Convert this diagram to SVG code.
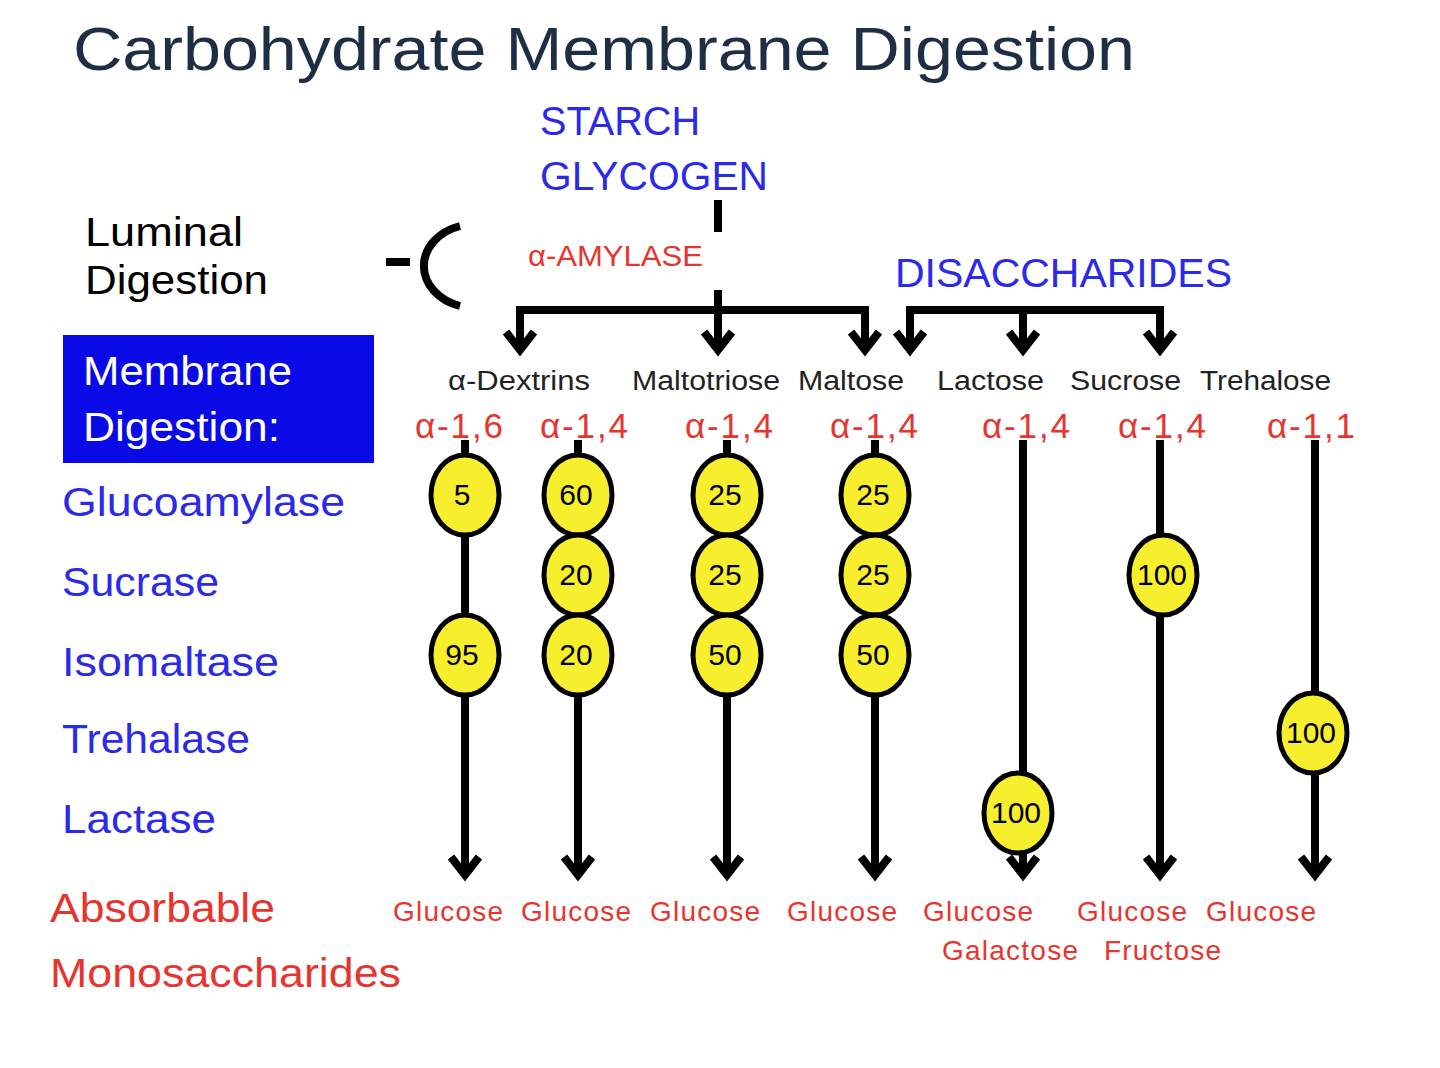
<svg xmlns="http://www.w3.org/2000/svg" width="1440" height="1068" viewBox="0 0 1440 1068">
<style>
text{font-family:"Liberation Sans",Arial,sans-serif}
.blue{fill:#2a2ae8}.red{fill:#e8342e}
.ln{stroke:#000;stroke-width:8;fill:none}
.ah{stroke:#000;stroke-width:8;fill:none;stroke-linejoin:miter}
.el{fill:#f7ef2e;stroke:#000;stroke-width:5}
.num{font-size:30px;fill:#000;text-anchor:middle}
.lbl{font-size:27px;fill:#222}
.ang{font-size:35px;fill:#e8342e}
.prod{font-size:28px;fill:#e8342e}
</style>
<rect width="1440" height="1068" fill="#fff"/>
<text x="73" y="70" font-size="62" fill="#1d2e45" textLength="1062" lengthAdjust="spacingAndGlyphs">Carbohydrate Membrane Digestion</text>
<text x="540" y="135" font-size="40" class="blue" textLength="160" lengthAdjust="spacingAndGlyphs">STARCH</text>
<text x="540" y="190" font-size="40" class="blue" textLength="228" lengthAdjust="spacingAndGlyphs">GLYCOGEN</text>
<text x="85" y="246" font-size="40" fill="#000" textLength="158" lengthAdjust="spacingAndGlyphs">Luminal</text>
<text x="85" y="294" font-size="40" fill="#000" textLength="183" lengthAdjust="spacingAndGlyphs">Digestion</text>
<text x="528" y="266" font-size="30" class="red" textLength="175" lengthAdjust="spacingAndGlyphs">α-AMYLASE</text>
<text x="895" y="287" font-size="40" class="blue" textLength="337" lengthAdjust="spacingAndGlyphs">DISACCHARIDES</text>
<g id="membrane"><rect x="63" y="335" width="311" height="128" fill="#0a0ae6"/>
<text x="83" y="385" font-size="40" fill="#fff" textLength="209" lengthAdjust="spacingAndGlyphs">Membrane</text>
<text x="83" y="441" font-size="40" fill="#fff" textLength="197" lengthAdjust="spacingAndGlyphs">Digestion:</text></g>
<g font-size="40" class="blue">
<text x="62" y="516" textLength="283" lengthAdjust="spacingAndGlyphs">Glucoamylase</text>
<text x="62" y="596" textLength="157" lengthAdjust="spacingAndGlyphs">Sucrase</text>
<text x="62" y="676" textLength="217" lengthAdjust="spacingAndGlyphs">Isomaltase</text>
<text x="62" y="753" textLength="188" lengthAdjust="spacingAndGlyphs">Trehalase</text>
<text x="62" y="833" textLength="154" lengthAdjust="spacingAndGlyphs">Lactase</text></g>
<text x="50" y="922" font-size="40" class="red" textLength="225" lengthAdjust="spacingAndGlyphs">Absorbable</text>
<text x="50" y="987" font-size="40" class="red" textLength="351" lengthAdjust="spacingAndGlyphs">Monosaccharides</text>
<g id="connectors">
<path class="ln" d="M460,226 A52,42 0 0 0 460,306 M386,262 H410"/>
<path class="ln" d="M718,200 V232 M718,290 V350 M520,350 V310 H865 V350 M910,350 V310 H1160 V350 M1023,310 V350"/>
<path class="ah" d="M506,332 L520,350 L534,332 M704,332 L718,350 L732,332 M851,332 L865,350 L879,332 M896,332 L910,350 L924,332 M1009,332 L1023,350 L1037,332 M1146,332 L1160,350 L1174,332"/>
<path class="ln" d="M465,440 V875 M578,440 V875 M727,440 V875 M875,440 V875 M1023,440 V875 M1160,440 V875 M1315,440 V875"/>
<path class="ah" d="M451,857 L465,875 L479,857 M564,857 L578,875 L592,857 M713,857 L727,875 L741,857 M861,857 L875,875 L889,857 M1009,857 L1023,875 L1037,857 M1146,857 L1160,875 L1174,857 M1301,857 L1315,875 L1329,857"/>
</g>
<g class="lbl">
<text x="448" y="390" textLength="142" lengthAdjust="spacingAndGlyphs">α-Dextrins</text><text x="632" y="390" textLength="148" lengthAdjust="spacingAndGlyphs">Maltotriose</text><text x="798" y="390" textLength="106" lengthAdjust="spacingAndGlyphs">Maltose</text>
<text x="937" y="390" textLength="107" lengthAdjust="spacingAndGlyphs">Lactose</text><text x="1070" y="390" textLength="111" lengthAdjust="spacingAndGlyphs">Sucrose</text><text x="1200" y="390" textLength="131" lengthAdjust="spacingAndGlyphs">Trehalose</text></g>
<g class="ang"><text x="415" y="438" textLength="88">α-1,6</text><text x="540" y="438" textLength="88">α-1,4</text><text x="685" y="438" textLength="88">α-1,4</text><text x="830" y="438" textLength="88">α-1,4</text><text x="982" y="438" textLength="88">α-1,4</text><text x="1118" y="438" textLength="88">α-1,4</text><text x="1267" y="438" textLength="88">α-1,1</text></g>
<g id="nodes">
<g id="c1"><ellipse class="el" cx="465" cy="495" rx="34" ry="40"/><text class="num" x="462" y="505">5</text><ellipse class="el" cx="465" cy="655" rx="34" ry="40"/><text class="num" x="462" y="665">95</text></g>
<g id="c2"><ellipse class="el" cx="578" cy="495" rx="34" ry="40"/><text class="num" x="576" y="505">60</text><ellipse class="el" cx="578" cy="575" rx="34" ry="40"/><text class="num" x="576" y="585">20</text><ellipse class="el" cx="578" cy="655" rx="34" ry="40"/><text class="num" x="576" y="665">20</text></g>
<g id="c3"><ellipse class="el" cx="727" cy="495" rx="34" ry="40"/><text class="num" x="725" y="505">25</text><ellipse class="el" cx="727" cy="575" rx="34" ry="40"/><text class="num" x="725" y="585">25</text><ellipse class="el" cx="727" cy="655" rx="34" ry="40"/><text class="num" x="725" y="665">50</text></g>
<g id="c4"><ellipse class="el" cx="875" cy="495" rx="34" ry="40"/><text class="num" x="873" y="505">25</text><ellipse class="el" cx="875" cy="575" rx="34" ry="40"/><text class="num" x="873" y="585">25</text><ellipse class="el" cx="875" cy="655" rx="34" ry="40"/><text class="num" x="873" y="665">50</text></g>
<g id="c5"><ellipse class="el" cx="1018" cy="813" rx="34" ry="40"/><text class="num" x="1016" y="823">100</text></g>
<g id="c6"><ellipse class="el" cx="1163" cy="575" rx="34" ry="40"/><text class="num" x="1162" y="585">100</text></g>
<g id="c7"><ellipse class="el" cx="1313" cy="733" rx="34" ry="40"/><text class="num" x="1311" y="743">100</text></g>
</g>
<g class="prod">
<text x="393" y="921" textLength="110">Glucose</text><text x="521" y="921" textLength="110">Glucose</text><text x="650" y="921" textLength="110">Glucose</text><text x="787" y="921" textLength="110">Glucose</text><text x="923" y="921" textLength="110">Glucose</text><text x="1077" y="921" textLength="110">Glucose</text><text x="1206" y="921" textLength="110">Glucose</text>
<text x="942" y="960" textLength="136">Galactose</text><text x="1104" y="960" textLength="117">Fructose</text></g>
</svg>
